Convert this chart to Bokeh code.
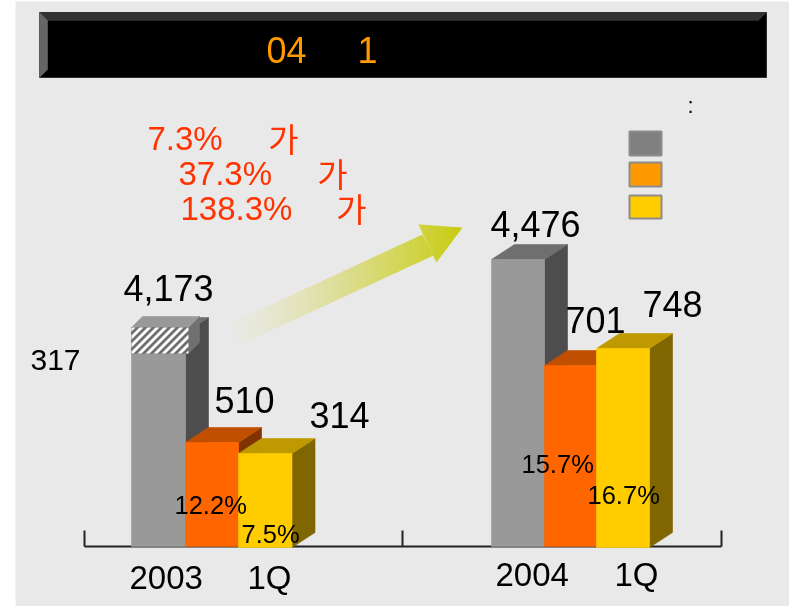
from bokeh.plotting import figure
from bokeh.models import Range1d, FixedTicker
from bokeh.core.properties import value
from bokeh.embed import file_html
from bokeh.resources import INLINE

# ---------- data ----------
years = ["2003", "2004"]
quarters = ["1Q", "1Q"]
gray_labels = ["4,173", "4,476"]
orange_labels = ["510", "701"]
yellow_labels = ["314", "748"]
orange_pct = ["12.2%", "15.7%"]
yellow_pct = ["7.5%", "16.7%"]
hatched_label = "317"
growth_pct = ["7.3%", "37.3%", "138.3%"]
growth_word = ["\uac00", "\uac00", "\uac00"]
title_parts = ["04", "1"]
# the bars of the source are schematic: drawn heights, not proportional to the labels
gray_height = [214, 287]
orange_height = [104, 181]
yellow_height = [93, 198]
hatched_height = 26
legend_colors = ["#808080", "#ff9900", "#ffcc00"]

# ---------- layout: all in the picture's own coordinates ----------
FIG_L, FIG_T, W, H = 15, 1, 774, 605
BASE = 546
BAR_LEFT = [131, 491]
BAR_W = [54, 53, 53.5], [53, 52, 53]
DX, DY = 23, 15
BG = "#e9e9e9"
FONT = value("Liberation Sans")

p = figure(width=W, height=H, output_backend="svg", toolbar_location=None,
           x_range=Range1d(FIG_L, FIG_L + W), y_range=Range1d(FIG_T + H, FIG_T),
           x_axis_location="below", y_axis_location=None,
           min_border=0, outline_line_color=None,
           background_fill_color=BG, border_fill_color=BG)
p.styles = {"position": "fixed", "left": f"{FIG_L}px", "top": f"{FIG_T}px"}
p.grid.visible = False


def faces(xs, ys, colors):
    p.patches(xs, ys, fill_color=colors, line_color=colors, line_width=0.6)


def box(x0, x1, top, front, cap, side, bottom=BASE, dx=DX, dy=DY):
    faces([[x1, x1 + dx, x1 + dx, x1],
           [x0, x0 + dx, x1 + dx, x1],
           [x0, x1, x1, x0]],
          [[top, top - dy, bottom - dy, bottom],
           [top, top - dy, top - dy, top],
           [top, top, bottom, bottom]],
          [side, cap, front])


# title bar
TL, TR, TT, TB, BV = 39, 766, 12, 77, 8
faces([[TL, TR, TR, TL], [TL, TR, TR - BV, TL + BV], [TL, TL + BV, TL + BV, TL]],
      [[TT, TT, TB, TB], [TT, TT, TT + BV, TT + BV], [TT, TT + BV, TB - BV, TB]],
      ["#000000", "#333333", "#666666"])


def t(x, base, s, size, color="#000000", font=FONT, align="left"):
    # placed by the em box's middle, which lies 0.347 em above the text's baseline
    p.text([x - 1], [base - 0.347 * size], text=[s], text_font=font, text_font_size=f"{size}px",
           text_color=color, text_align=align, text_baseline="middle")


def clip(poly, a, b):
    def cut(pts, keep, xv):
        out = []
        for i, q in enumerate(pts):
            r = pts[(i + 1) % len(pts)]
            if keep(q):
                out.append(q)
            if keep(q) != keep(r):
                f = (xv - q[0]) / (r[0] - q[0])
                out.append((xv, q[1] + f * (r[1] - q[1])))
        return out
    res = cut(poly, lambda q: q[0] >= a, a)
    return cut(res, lambda q: q[0] <= b, b) if res else res


# arrow with a horizontal gradient, built as vertical slices
shaft = [(230, 323), (422, 234), (433, 255), (238, 345)]
head = [(418, 224), (462, 227), (436, 262)]
N = 58
X0, X1 = 230, 462
c0, c1 = (233, 233, 230), (200, 204, 16)
sx, sy, sc = [], [], []
for i in range(N):
    a = X0 + (X1 - X0) * i / N
    b = X0 + (X1 - X0) * (i + 1) / N + 0.6
    f = (i / (N - 1)) ** 1.3
    col = "#%02x%02x%02x" % tuple(round(c0[k] + (c1[k] - c0[k]) * f) for k in range(3))
    for poly in (shaft, head):
        piece = clip(poly, a, b)
        if len(piece) >= 3:
            sx.append([q[0] for q in piece])
            sy.append([q[1] for q in piece])
            sc.append(col)
p.patches(sx, sy, fill_color=sc, line_color=None)

# bars
GRAY = ("#999999", "#6f6f6f", "#4d4d4d")
ORANGE = ("#ff6600", "#c05000", "#803300")
YELLOW = ("#ffcc00", "#bf9900", "#806600")
for g in range(2):
    x = BAR_LEFT[g]
    w0, w1, w2 = BAR_W[g]
    box(x, x + w0, BASE - gray_height[g], *GRAY)
    box(x + w0, x + w0 + w1, BASE - orange_height[g], *ORANGE)
    box(x + w0 + w1, x + w0 + w1 + w2, BASE - yellow_height[g], *YELLOW, bottom=BASE + 1)

# hatched block on top of the 2003 bar: white diagonal stripes
hx0, hx1 = BAR_LEFT[0], BAR_LEFT[0] + 57
htop = BASE - gray_height[0] - 5
hbot = htop + hatched_height
box(hx0, hx1, htop, "#707070", "#999999", "#707070", bottom=hbot, dx=11, dy=11)
STRIPE, PERIOD, SHIFT = 4, 8, hatched_height
hsx, hsy = [], []
for k in range((hx1 - hx0 + SHIFT) // PERIOD + 1):
    u = hx0 - SHIFT + k * PERIOD
    piece = clip([(u, hbot), (u + STRIPE, hbot), (u + STRIPE + SHIFT, htop), (u + SHIFT, htop)], hx0, hx1)
    if len(piece) >= 3:
        hsx.append([q[0] for q in piece])
        hsy.append([q[1] for q in piece])
p.patches(hsx, hsy, fill_color="#ffffff", line_color=None)

# baseline axis with its three ticks
ax = p.xaxis[0]
ax.fixed_location = BASE
ax.ticker = FixedTicker(ticks=[84, 402, 721])
ax.bounds = (84, 721)
ax.major_tick_in = 16
ax.major_tick_out = 0
ax.minor_tick_line_color = None
ax.axis_line_color = "#222222"
ax.major_tick_line_color = "#222222"
ax.axis_line_width = 2
ax.major_tick_line_width = 2
ax.major_label_overrides = {84: "", 402: "", 721: ""}
ax.level = "underlay"

# legend swatches
LG_L, LG_R = 629, 661
LG_T = [131, 162, 195]
LG_H = [24, 24, 23]
for i in range(3):
    p.quad(left=[LG_L], right=[LG_R], top=[LG_T[i]], bottom=[LG_T[i] + LG_H[i]],
           fill_color=legend_colors[i], line_color="#8c8c8c", line_width=2)

# texts
t(688, 113, ":", 22)
t(267, 62, title_parts[0], 36, "#ff9900")
t(358, 62, title_parts[1], 36, "#ff9900")

RED = "#ff3300"
for s, x, y in zip(growth_pct, [148, 179, 181], [149, 184, 219]):
    t(x, y, s, 33, RED)
for s, x, y in zip(growth_word, [284, 333, 352], [149, 184, 219]):
    t(x, y, s, 33, RED, font=value("Noto Sans CJK KR"), align="center")

for s, x, y in zip(gray_labels, [124, 491], [300, 236]):
    t(x, y, s, 36)
for s, x, y in zip(orange_labels, [215, 566], [412, 332]):
    t(x, y, s, 36)
for s, x, y in zip(yellow_labels, [310, 643], [427, 316]):
    t(x, y, s, 36)
t(31, 370, hatched_label, 30)
for s, x, y in zip(orange_pct, [175, 522], [513, 472]):
    t(x, y, s, 25.5)
for s, x, y in zip(yellow_pct, [242, 588], [542, 503]):
    t(x, y, s, 25.5)
for s, x, y in zip(years, [130, 496], [588, 585]):
    t(x, y, s, 33)
for s, x, y in zip(quarters, [248, 615], [588, 585]):
    t(x, y, s, 33)

open("out.html", "w").write(file_html(p, INLINE))
